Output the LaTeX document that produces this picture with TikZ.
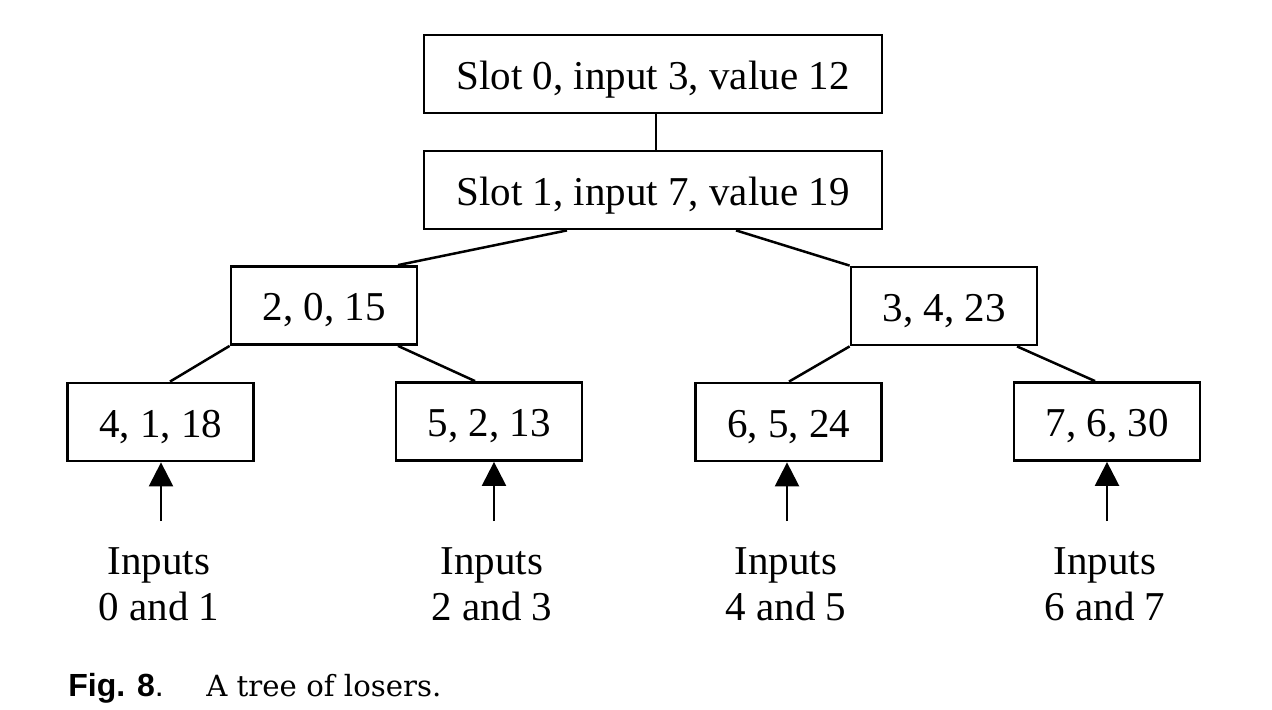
\documentclass[tikz,border=0pt]{standalone}
\usepackage{fontspec}
\setmainfont{Liberation Serif}
\newfontfamily\capsans{Liberation Sans}
\newfontfamily\capserif{DejaVu Serif}
\usetikzlibrary{arrows.meta}
\begin{document}
\begin{tikzpicture}[x=0.5pt,y=-0.5pt,
  box/.style={draw,line width=1.4pt,inner sep=0pt,minimum height=39pt,text height=15.5pt,text depth=0pt,font=\fontsize{20.5}{24}\selectfont},
  wide/.style={minimum width=229pt},
  small/.style={minimum width=93pt},
  edge/.style={line width=1.25pt},
  arr/.style={line width=1.2pt,-{Triangle[length=12pt,width=12pt]}},
  lbl/.style={anchor=base,inner sep=0pt,font=\fontsize{20.5}{24}\selectfont}]
\useasboundingbox (0,0) rectangle (1272,710);
% boxes
\node[box,wide] (s0) at (653,74) {Slot 0, input 3, value 12};
\node[box,wide] (s1) at (653,190) {Slot 1, input 7, value 19};
\node[box,small] (n2) at (324,305.5) {2, 0, 15};
\node[box,small] (n3) at (944,306) {3, 4, 23};
\node[box,small] (n4) at (160.5,422) {4, 1, 18};
\node[box,small] (n5) at (489,421.5) {5, 2, 13};
\node[box,small] (n6) at (788.5,422) {6, 5, 24};
\node[box,small] (n7) at (1107,421.5) {7, 6, 30};
% connectors
\coordinate (v) at (656,0);
\draw[edge] (s0.south -| v) -- (s1.north -| v);
\draw[edge] ([xshift=-43pt]s1.south) -- ([xshift=37pt]n2.north);
\draw[edge] ([xshift=41.5pt]s1.south) -- (n3.north west);
\draw[edge] (n2.south west) -- ([xshift=4.75pt]n4.north);
\draw[edge] ([xshift=37pt]n2.south) -- ([xshift=-7pt]n5.north);
\draw[edge] (n3.south west) -- ([xshift=0.25pt]n6.north);
\draw[edge] ([xshift=36.5pt]n3.south) -- ([xshift=-6pt]n7.north);
% input arrows
\coordinate (a1) at (161,521);
\coordinate (a2) at (494,521);
\coordinate (a3) at (787,521);
\coordinate (a4) at (1107,521);
\draw[arr] (a1) -- (a1 |- n4.south);
\draw[arr] (a2) -- (a2 |- n5.south);
\draw[arr] (a3) -- (a3 |- n6.south);
\draw[arr] (a4) -- (a4 |- n7.south);
% input labels
\node[lbl] (i1a) at (159,574) {Inputs};
\node[lbl] (i1b) at (159,620) {0 and 1};
\node[lbl] (i2a) at (492,574) {Inputs};
\node[lbl] (i2b) at (492,620) {2 and 3};
\node[lbl] (i3a) at (786,574) {Inputs};
\node[lbl] (i3b) at (786,620) {4 and 5};
\node[lbl] (i4a) at (1105,574) {Inputs};
\node[lbl] (i4b) at (1105,620) {6 and 7};
% caption
\node[anchor=base west,inner sep=0pt,font=\capsans\fontsize{16}{18}\selectfont] (fig) at (68,696) {\textbf{Fig. 8}.};
\node[anchor=base west,inner sep=0pt,font=\capserif\fontsize{14.6}{17}\selectfont] (cap) at (206,696) {A tree of losers.};
\end{tikzpicture}
\end{document}
